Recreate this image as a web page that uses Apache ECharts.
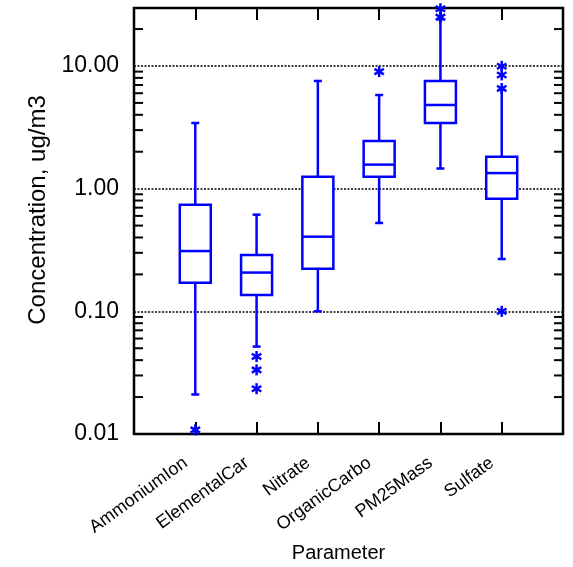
<!DOCTYPE html>
<html>
<head>
<meta charset="utf-8">
<script src="https://cdn.jsdelivr.net/npm/echarts@6/dist/echarts.min.js"></script>
<style>
html,body{margin:0;padding:0;background:#fff;}
#chart{width:573px;height:567px;}
</style>
</head>
<body>
<div id="chart"></div>
<script>
const categories = ['AmmoniumIon', 'ElementalCar', 'Nitrate', 'OrganicCarbo', 'PM25Mass', 'Sulfate'];
const whiskerLow  = [0.021, 0.0516, 0.10, 0.525, 1.46, 0.267];
const q1          = [0.171, 0.136, 0.222, 1.25, 3.43, 0.829];
const median      = [0.310, 0.207, 0.406, 1.57, 4.81, 1.34];
const q3          = [0.741, 0.288, 1.25, 2.45, 7.55, 1.82];
const whiskerHigh = [3.43, 0.614, 7.55, 5.80, 24.0, 6.4];
const outlierCategory = ['AmmoniumIon', 'ElementalCar', 'ElementalCar', 'ElementalCar', 'OrganicCarbo', 'PM25Mass', 'PM25Mass', 'Sulfate', 'Sulfate', 'Sulfate', 'Sulfate'];
const outlierValue    = [0.0108, 0.0428, 0.0333, 0.0234, 9.0, 25.0, 29.3, 9.95, 8.45, 6.55, 0.10];
const yTickLabels = ['0.01', '0.10', '1.00', '10.00'];
const minorTickValues = [0.02,0.03,0.04,0.05,0.06,0.07,0.08,0.09,
  0.2,0.3,0.4,0.5,0.6,0.7,0.8,0.9, 2,3,4,5,6,7,8,9, 20];

const axisCats = [''].concat(categories, ['']);
const BLUE = '#0000FF';
const SANS = '"Liberation Sans", Arial, sans-serif';

const chart = echarts.init(document.getElementById('chart'), null, {renderer: 'canvas'});

const boxData = categories.map((c, i) => [c, whiskerLow[i], q1[i], median[i], q3[i], whiskerHigh[i]]);
const outlierData = outlierCategory.map((c, i) => [c, outlierValue[i]]);
const minorData = minorTickValues.map(v => [0, v]);

function renderBox(params, api) {
  const xi = api.value(0);
  const pLow = api.coord([xi, api.value(1)]);
  const pQ1 = api.coord([xi, api.value(2)]);
  const pMed = api.coord([xi, api.value(3)]);
  const pQ3 = api.coord([xi, api.value(4)]);
  const pHigh = api.coord([xi, api.value(5)]);
  const cx = pQ1[0];
  const hw = 15.5, cap = 4;
  const st = {stroke: BLUE, lineWidth: 2.5, fill: null};
  return {
    type: 'group',
    children: [
      {type: 'line', shape: {x1: cx, y1: pHigh[1], x2: cx, y2: pQ3[1]}, style: st},
      {type: 'line', shape: {x1: cx, y1: pQ1[1], x2: cx, y2: pLow[1]}, style: st},
      {type: 'line', shape: {x1: cx - cap, y1: pHigh[1], x2: cx + cap, y2: pHigh[1]}, style: st},
      {type: 'line', shape: {x1: cx - cap, y1: pLow[1], x2: cx + cap, y2: pLow[1]}, style: st},
      {type: 'rect', shape: {x: cx - hw, y: pQ3[1], width: hw * 2, height: pQ1[1] - pQ3[1]}, style: {stroke: BLUE, lineWidth: 2.5, fill: '#fff'}},
      {type: 'line', shape: {x1: cx - hw, y1: pMed[1], x2: cx + hw, y2: pMed[1]}, style: st}
    ]
  };
}

function renderStar(params, api) {
  const p = api.coord([api.value(0), api.value(1)]);
  const r = 5.5;
  const dx = r * Math.sin(Math.PI / 3), dy = r * Math.cos(Math.PI / 3);
  const st = {stroke: BLUE, lineWidth: 2.5};
  return {
    type: 'group',
    children: [
      {type: 'line', shape: {x1: p[0], y1: p[1] - r, x2: p[0], y2: p[1] + r}, style: st},
      {type: 'line', shape: {x1: p[0] - dx, y1: p[1] - dy, x2: p[0] + dx, y2: p[1] + dy}, style: st},
      {type: 'line', shape: {x1: p[0] - dx, y1: p[1] + dy, x2: p[0] + dx, y2: p[1] - dy}, style: st}
    ]
  };
}

function renderMinor(params, api) {
  const y = api.coord([0, api.value(1)])[1];
  const cs = params.coordSys;
  const st = {stroke: '#000', lineWidth: 2};
  return {
    type: 'group',
    children: [
      {type: 'line', shape: {x1: cs.x, y1: y, x2: cs.x + 9, y2: y}, style: st},
      {type: 'line', shape: {x1: cs.x + cs.width - 9, y1: y, x2: cs.x + cs.width, y2: y}, style: st}
    ]
  };
}

const option = {
  animation: false,
  backgroundColor: '#fff',
  grid: {left: 134, right: 10, top: 8, bottom: 133, containLabel: false, outerBoundsMode: 'none',
    show: true, borderColor: '#000', borderWidth: 2.5, backgroundColor: 'transparent'},
  xAxis: [{
    type: 'category',
    data: axisCats,
    boundaryGap: false,
    position: 'bottom',
    axisLine: {show: false},
    axisTick: {show: true, inside: true, length: 12, interval: 0, lineStyle: {color: '#000', width: 2}},
    axisLabel: {interval: 0, rotate: 36, margin: 20, fontSize: 18, color: '#000', fontFamily: SANS, padding: [0, 12, 0, 0]},
    splitLine: {show: false},
    name: 'Parameter',
    nameLocation: 'middle',
    nameGap: 106,
    nameTextStyle: {fontSize: 20, color: '#000', fontFamily: SANS, padding: [0, 20, 0, 0]}
  }, {
    type: 'category',
    data: axisCats,
    boundaryGap: false,
    position: 'top',
    axisLine: {show: false},
    axisTick: {show: true, inside: true, length: 12, interval: 0, lineStyle: {color: '#000', width: 2}},
    axisLabel: {show: false},
    splitLine: {show: false}
  }],
  yAxis: {
    type: 'log',
    logBase: 10,
    min: 0.01,
    max: 29.7,
    interval: 1,
    axisLine: {show: false},
    axisTick: {show: false},
    axisLabel: {
      margin: 15, fontSize: 23, color: '#000', fontFamily: SANS,
      formatter: function (v) {
        const l = Math.log10(v);
        if (Math.abs(l - Math.round(l)) > 1e-6) return '';
        const idx = Math.round(l) + 2;
        return yTickLabels[idx] || '';
      }
    },
    splitLine: {show: true, lineStyle: {color: '#000', type: [2, 1.5], width: 1.5}},
    name: 'Concentration, ug/m3',
    nameLocation: 'middle',
    nameGap: 82,
    nameTextStyle: {fontSize: 24, color: '#000', fontFamily: SANS, padding: [0, 0, 0, 22]}
  },
  series: [
    {type: 'custom', name: 'minorTicks', renderItem: renderMinor, data: minorData, encode: {x: 0, y: 1}, silent: true, z: 3},
    {type: 'custom', name: 'box', renderItem: renderBox, data: boxData, encode: {x: 0, y: [1, 2, 3, 4, 5]}, z: 4},
    {type: 'custom', name: 'outliers', renderItem: renderStar, data: outlierData, encode: {x: 0, y: 1}, z: 5}
  ]
};
chart.setOption(option);
</script>
</body>
</html>
